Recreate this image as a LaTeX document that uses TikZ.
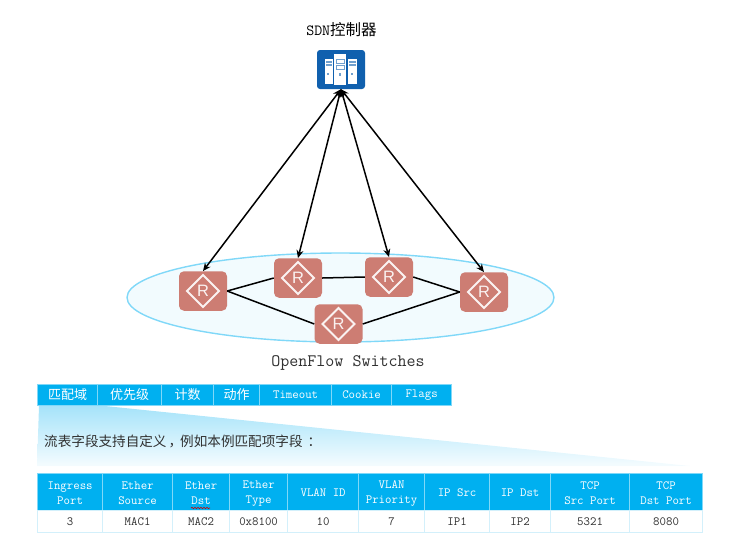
\documentclass[tikz,border=0pt]{standalone}
\usepackage{fontspec}
\usetikzlibrary{arrows.meta,shapes.geometric,decorations.pathmorphing}
\newfontfamily\cjkfont{Noto Sans CJK SC}
\newfontfamily\routerfont{Liberation Sans}

\definecolor{cellblue}{HTML}{00B0F0}
\definecolor{cellline}{HTML}{80D8F8}
\definecolor{rowline}{HTML}{D3F0FB}
\definecolor{routerred}{HTML}{CD7D73}
\definecolor{ctrlblue}{HTML}{1060AE}
\definecolor{textgrey}{HTML}{303030}

\tikzset{
  link/.style={draw=black, line width=1.5pt},
  dlink/.style={link, {Stealth[length=8pt,width=7pt]}-{Stealth[length=8pt,width=7pt]}},
  router/.style={rectangle, rounded corners=5pt, fill=routerred, minimum width=48pt, minimum height=39.5pt,
    inner sep=0pt, text=white!90!routerred, font=\routerfont\fontsize{16.5}{16.5}\selectfont},
  cell/.style={rectangle, anchor=north west, inner sep=0pt, align=center, line width=1.2pt},
  tophead/.style={cell, fill=cellblue, draw=cellline, text=white, minimum height=21.5pt, font=\ttfamily\fontsize{12.5}{15}\selectfont},
  cnhead/.style={tophead, font=\cjkfont\fontsize{13}{15}\selectfont},
  head/.style={cell, fill=cellblue, draw=cellline, text=white, minimum height=39pt, font=\ttfamily\fontsize{12.5}{15}\selectfont},
  body/.style={cell, fill=white, draw=rowline, text=textgrey, minimum height=22pt, font=\ttfamily\fontsize{12.5}{15}\selectfont},
}

\begin{document}
\begin{tikzpicture}[x=1pt, y=-1pt]
\useasboundingbox (0,0) rectangle (731,539);

\def \ystrip  {383.5}
\def \yhead   {473}
\def \ybody   {510}

% switch domain
\node [ellipse, fill=cellblue!5, draw=cellline, line width=1.4pt, minimum width=427pt, minimum height=89pt, inner sep=0pt] (domain) at (340.5, 297.5) {};

% controller
\node [rectangle, rounded corners=3pt, fill=ctrlblue, minimum width=48pt, minimum height=39pt, inner sep=0pt] (ctrl) at (341, 69.5) {};
\node (ctrllabel) at (341.5, 30) {\ttfamily\fontsize{15.5}{15}\selectfont SDN\cjkfont 控制器};

% servers in the controller
\fill [white] (325, 59) rectangle (333, 84);
\fill [white] (334, 54) rectangle (346, 85);
\fill [white] (348, 59) rectangle (357, 84);
\foreach \ys in {60.5, 64} {
  \fill [ctrlblue!60!white] (326, \ys) rectangle (332, \ys+2);
  \fill [ctrlblue!60!white] (349, \ys) rectangle (356, \ys+2);
}
\foreach \ys in {59, 65} {
  \draw [ctrlblue!60!white, fill=white, line width=0.8pt] (336, \ys) rectangle (344, \ys+4);
}
\fill [ctrlblue!60!white] (327, 73) rectangle (329, 75);
\fill [ctrlblue!60!white] (339, 73) rectangle (341, 76);
\fill [ctrlblue!60!white] (351, 73) rectangle (353, 75);

% switches
\node [router] (ra) at (203, 291) {R};
\node [router] (rb) at (298, 278) {R};
\node [router] (rc) at (389, 277) {R};
\node [router] (rd) at (484, 292) {R};
\node [router] (re) at (338.5, 324) {R};

\foreach \r in {ra, rb, rc, rd, re} {
  \draw [white!90!routerred, line width=2.1pt] ([yshift=16pt]\r.center) -- ([xshift=16pt]\r.center) -- ([yshift=-16pt]\r.center) -- ([xshift=-16pt]\r.center) -- cycle;
}

% links between switches
\draw [link] (ra.east) -- (rb.west);
\draw [link] (rb.east) -- (rc.west);
\draw [link] (rc.east) -- (rd.west);
\draw [link] (ra.east) -- (re.west);
\draw [link] (re.east) -- (rd.west);

% links to the controller
\draw [dlink] (ctrl.south) -- (ra.north);
\draw [dlink] (ctrl.south) -- (rb.north);
\draw [dlink] (ctrl.south) -- (rc.north);
\draw [dlink] (ctrl.south) -- (rd.north);

\node [font=\ttfamily\fontsize{17.5}{17}\selectfont, text=textgrey] (domainlabel) at (348, 362.5) {OpenFlow Switches};

% wedge
\shade [top color=cellblue!35!white, bottom color=cellblue!4!white] (39, 406) -- (105, 406) -- (690, 466) -- (37, 466) -- cycle;

% field strip
\node [cnhead, minimum width=60pt] (fa) at (37, \ystrip) {匹配域};
\node [cnhead, minimum width=64pt] (fb) at (97, \ystrip) {优先级};
\node [cnhead, minimum width=52pt] (fc) at (161, \ystrip) {计数};
\node [cnhead, minimum width=46pt] (fd) at (213, \ystrip) {动作};
\node [tophead, minimum width=72pt] (fe) at (259, \ystrip) {Timeout};
\node [tophead, minimum width=60pt] (ff) at (331, \ystrip) {Cookie};
\node [tophead, minimum width=60pt] (fg) at (391, \ystrip) {Flags};

\node [anchor=west, inner sep=0pt, text=textgrey, font=\cjkfont\fontsize{13.6}{15}\selectfont] (note) at (44, 441) {流表字段支持自定义\kern2pt，\kern-2pt例如本例匹配项字段\kern5pt：};

% match table head
\node [head, minimum width=65pt] (ha) at (37, \yhead) {Ingress\\Port};
\node [head, minimum width=70pt] (hb) at (102, \yhead) {Ether\\Source};
\node [head, minimum width=57pt] (hc) at (172, \yhead) {Ether\\Dst};
\node [head, minimum width=58pt] (hd) at (229, \yhead) {Ether\\Type};
\node [head, minimum width=71pt] (he) at (287, \yhead) {VLAN ID};
\node [head, minimum width=66pt] (hf) at (358, \yhead) {VLAN\\Priority};
\node [head, minimum width=65pt] (hg) at (424, \yhead) {IP Src};
\node [head, minimum width=61pt] (hh) at (489, \yhead) {IP Dst};
\node [head, minimum width=79pt] (hi) at (550, \yhead) {TCP\\Src Port};
\node [head, minimum width=73pt] (hj) at (629, \yhead) {TCP\\Dst Port};

% match table values
\node [body, minimum width=65pt] (ba) at (37, \ybody) {3};
\node [body, minimum width=70pt] (bb) at (102, \ybody) {MAC1};
\node [body, minimum width=57pt] (bc) at (172, \ybody) {MAC2};
\node [body, minimum width=58pt] (bd) at (229, \ybody) {0x8100};
\node [body, minimum width=71pt] (be) at (287, \ybody) {10};
\node [body, minimum width=66pt] (bf) at (358, \ybody) {7};
\node [body, minimum width=65pt] (bg) at (424, \ybody) {IP1};
\node [body, minimum width=61pt] (bh) at (489, \ybody) {IP2};
\node [body, minimum width=79pt] (bi) at (550, \ybody) {5321};
\node [body, minimum width=73pt] (bj) at (629, \ybody) {8080};

% squiggle under Dst
\draw [red!80!black, line width=0.6pt, decorate, decoration={snake, amplitude=0.7pt, segment length=3pt}] (191, 508) -- (210, 508);
\end{tikzpicture}
\end{document}
